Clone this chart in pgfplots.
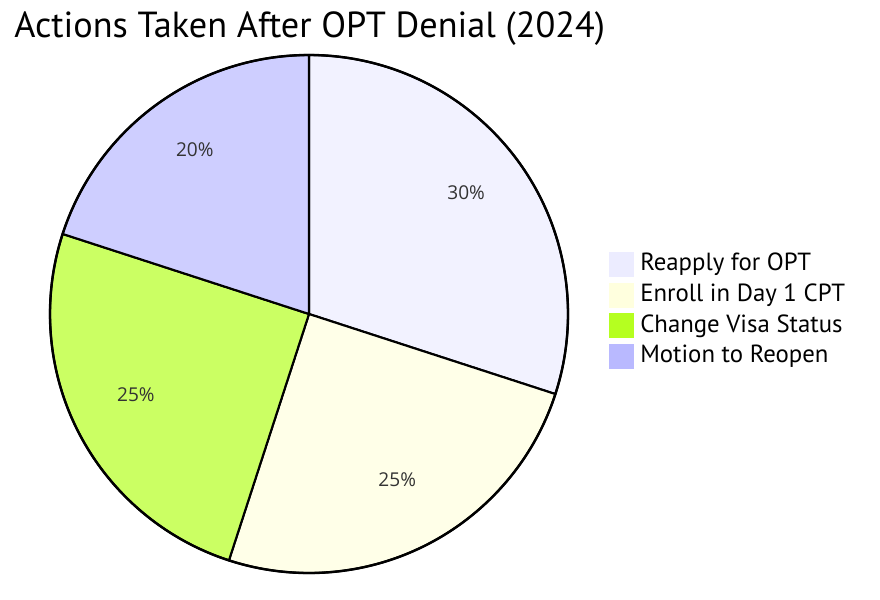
\documentclass[border=0pt]{standalone}
\usepackage{pgfplots}
\pgfplotsset{compat=1.18}
\usepackage{pgfplotstable}
\usepackage{fontspec}
\setmainfont{PT Sans}
\newfontfamily\labelfont{Open Sans}
\definecolor{s1}{HTML}{ECECFF}
\definecolor{s2}{HTML}{FFFFDE}
\definecolor{s3}{HTML}{B5FF20}
\definecolor{s4}{HTML}{B9B9FF}
\definecolor{txt}{HTML}{333333}

\pgfplotstableread[col sep=comma]{
label,value,col
Reapply for OPT,30,s1
Enroll in Day 1 CPT,25,s2
Change Visa Status,25,s3
Motion to Reopen,20,s4
}\piedata

\begin{document}
\begin{tikzpicture}
\begin{axis}[
  at={(0,0)}, anchor=north west,
  xmin=0, xmax=880, ymin=0, ymax=599, y dir=reverse,
  width=660pt, height=449.25pt, scale only axis,
  hide axis, clip=false,
]
\path (axis cs:0,0) rectangle (axis cs:880,599);
\gdef\cum{0}
\pgfplotsinvokeforeach{0,1,2,3}{
  \pgfplotstablegetelem{#1}{value}\of\piedata \let\v\pgfplotsretval
  \pgfplotstablegetelem{#1}{col}\of\piedata \let\c\pgfplotsretval
  \pgfplotstablegetelem{#1}{label}\of\piedata \let\l\pgfplotsretval
  \pgfmathsetmacro\a{90-3.6*\cum}
  \pgfmathsetmacro\b{\a-3.6*\v}
  \pgfmathsetmacro\m{(\a+\b)/2}
  \pgfmathsetmacro\ly{252+30.7*#1}
  \edef\cmd{%
    \noexpand\filldraw[fill=\c!70!white, draw=black, line width=1.6pt, line join=round]
      (axis cs:309,314) -- ++(\a:194.25pt) arc[start angle=\a, end angle=\b, radius=194.25pt] -- cycle;
    \noexpand\path (axis cs:309,314) ++(\m:145.7pt) ++(0,5.5pt) node[font=\noexpand\labelfont\noexpand\fontsize{14.3}{16}\noexpand\selectfont, text=txt] {\v\noexpand\%};
    \noexpand\fill[\c] (axis cs:609,\ly) rectangle (axis cs:634,\ly+25);
    \noexpand\node[anchor=west, inner sep=0pt, font=\noexpand\fontsize{18.6}{21}\noexpand\selectfont] at (axis cs:640,\ly+12.5) {\l};
  }
  \cmd
  \pgfmathsetmacro\newcum{\cum+\v}
  \xdef\cum{\newcum}
}
\draw[line width=1.8pt] (axis cs:309,314) circle[radius=194.25pt];
\node[anchor=base west, inner sep=0pt, font=\fontsize{27.2}{31}\selectfont] at (axis cs:14,37) {Actions Taken After OPT Denial (2024)};
\end{axis}
\end{tikzpicture}
\end{document}
